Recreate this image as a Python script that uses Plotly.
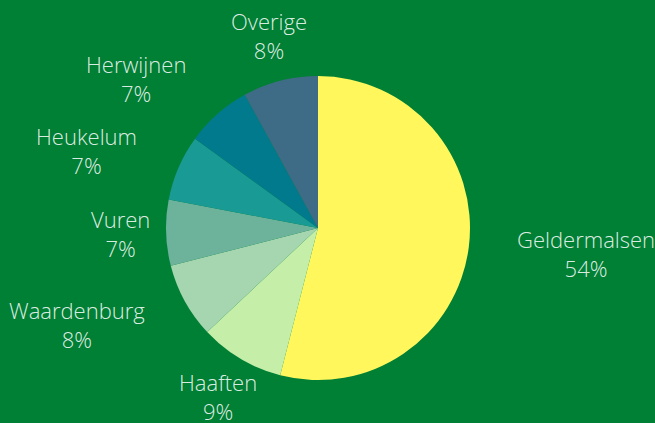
import math
import plotly.graph_objects as go

labels = ["Geldermalsen", "Haaften", "Waardenburg", "Vuren", "Heukelum", "Herwijnen", "Overige"]
values = [54, 9, 8, 7, 7, 7, 8]
colors = ["#FFF75B", "#C5EFA8", "#A6D6AF", "#6DB29B", "#1A9A94", "#007A8C", "#3E6B85"]

# styling: label offset (px) from the slice's outer-edge midpoint (dx right, dy up)
label_offset = [(117, -6), (-23, -38), (-108, -23), (-46, -1), (-92, 17), (-81, 35), (-11, 45)]

W, H = 655, 423
cx, cy = 318, 195  # pie centre in px (y measured from bottom)
R = 152
BG = "#008035"
TXT = "rgba(255,255,255,0.87)"
FONT = "Open Sans"

fig = go.Figure(go.Pie(
    labels=labels, values=values, sort=False, direction="clockwise", rotation=0,
    marker=dict(colors=colors, line=dict(width=0)),
    textinfo="none", hoverinfo="label+percent",
    domain=dict(x=[(cx - R) / W, (cx + R) / W], y=[(cy - R) / H, (cy + R) / H]),
    showlegend=False,
))

total = sum(values)
cum = 0
annotations = []
for lab, v, (ox, oy) in zip(labels, values, label_offset):
    theta = math.radians(360 * (cum + v / 2) / total)
    cum += v
    px = cx + R * math.sin(theta) + ox
    py = cy + R * math.cos(theta) + oy
    pct = f"{round(100 * v / total)}%"
    annotations.append(dict(
        x=px / W, y=py / H, xref="paper", yref="paper",
        text=f"{lab}<br>{pct}", showarrow=False, xanchor="center", yanchor="middle",
        align="center",
        font=dict(family=FONT, size=22, color=TXT, weight=300),
    ))

fig.update_layout(
    width=W, height=H, margin=dict(l=0, r=0, t=0, b=0),
    paper_bgcolor=BG, plot_bgcolor=BG,
    annotations=annotations,
    font=dict(family=FONT),
)
fig.write_html("out.html")
